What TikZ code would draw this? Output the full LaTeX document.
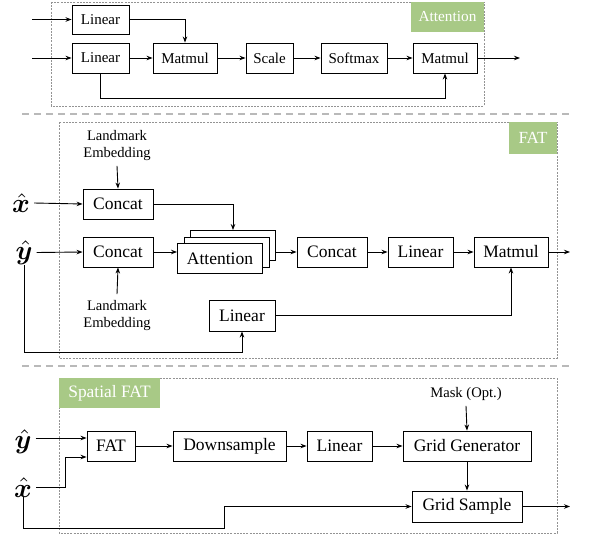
\documentclass[tikz,border=0pt]{standalone}
\usepackage{graphicx}
\usepackage{bm}
\usepackage{fontspec}
\setmainfont{Liberation Serif}
\usetikzlibrary{arrows.meta}

\definecolor{tagGreen}{RGB}{168,201,134}
\newcommand{\szOne}{\fontsize{15}{18}\selectfont}
\newcommand{\szTwo}{\fontsize{17.5}{20}\selectfont}
\newcommand{\szSmall}{\fontsize{14.6}{17}\selectfont}
\newcommand{\hatvar}[1]{\scalebox{2.7}{$\bm{\hat{#1}}$}}

\begin{document}
\begin{tikzpicture}[x=1pt,y=-1pt,
	box/.style={draw,line width=0.9pt,minimum height=30pt,inner sep=0pt,fill=white},
	tag/.style={fill=tagGreen,text=white,inner sep=0pt},
	frame/.style={draw=gray!85,line width=0.7pt,dash pattern=on 2pt off 1.2pt},
	sep/.style={draw=gray!55,line width=1.6pt,dash pattern=on 7pt off 5pt},
	arr/.style={-{Stealth[length=6pt,width=4.5pt]},line width=0.9pt},
	note/.style={align=center,font=\szSmall,inner sep=0pt},
	var/.style={font=\fontsize{10}{12}\selectfont,inner sep=0pt}]
	\useasboundingbox (0,0) rectangle (600,535);

	% attention
	\draw[frame] (51,2) rectangle (484,106);
	\node[tag,font=\fontsize{15.3}{18}\selectfont,minimum width=73pt,minimum height=30pt] (tagA) at (447.5,17) {Attention};

	\node[box,font=\szOne,minimum width=57pt,minimum height=29pt] (linK) at (100.5,19.5) {Linear};
	\node[box,font=\szOne,minimum width=57pt] (linQ) at (100.5,58) {Linear};
	\node[box,font=\szOne,minimum width=64pt] (mmA) at (185,58) {Matmul};
	\node[box,font=\szOne,minimum width=47pt] (scl) at (269.5,58) {Scale};
	\node[box,font=\szOne,minimum width=66pt] (smx) at (354,58) {Softmax};
	\node[box,font=\szOne,minimum width=64pt] (mmB) at (445,58) {Matmul};

	\coordinate (inK) at (32,19.5);
	\coordinate (inQ) at (32,58);
	\coordinate (outA) at (520,58);
	\coordinate (bendA) at (100.5,98);

	\draw[arr] (inK) -- (linK.west);
	\draw[arr] (inQ) -- (linQ.west);
	\draw[arr] (linK.east) -| (mmA.north);
	\draw[arr] (linQ) -- (mmA);
	\draw[arr] (mmA) -- (scl);
	\draw[arr] (scl) -- (smx);
	\draw[arr] (smx) -- (mmB);
	\draw[arr] (mmB.east) -- (outA);
	\draw[arr] (linQ.south) |- (bendA) -| (mmB.south);

	\draw[sep] (22,114) -- (570,114);

	% fat
	\draw[frame] (59,122) rectangle (557,358);
	\node[tag,font=\fontsize{17}{20}\selectfont,minimum width=48pt,minimum height=32pt] (tagF) at (533,138) {FAT};

	\node[var] (xhF) at (21,203) {\hatvar{x}};
	\node[var] (yhF) at (24,252.5) {\hatvar{y}};
	\node[note] (lmTop) at (117,145.5) {Landmark\\Embedding};
	\node[note] (lmBot) at (117,315.5) {Landmark\\Embedding};

	\node[box,font=\szTwo,minimum width=70pt] (catX) at (118,204) {Concat};
	\node[box,font=\szTwo,minimum width=70pt] (catY) at (118,252) {Concat};
	\foreach \k in {2,1}{
		\node[box,minimum width=85pt] (att\k) at (220+6.5*\k, 258.5-6.5*\k) {};
	}
	\node[box,font=\szTwo,minimum width=85pt] (att0) at (220,258.5) {Attention};
	\node[box,font=\szTwo,minimum width=70pt] (catZ) at (332,252) {Concat};
	\node[box,font=\szTwo,minimum width=65pt] (linF) at (420.5,252) {Linear};
	\node[box,font=\szTwo,minimum width=74pt] (mmF) at (511,252) {Matmul};
	\node[box,font=\szTwo,minimum width=66pt,minimum height=31pt] (linV) at (242,315.5) {Linear};

	\coordinate (outF) at (570,252);
	\coordinate (bendF) at (24,352);

	\draw[arr] (lmTop.south) ++(0,5) -- (catX.north);
	\draw[arr] (lmBot.north) ++(0,-6) -- (catY.south);
	\draw[arr] (xhF.east) ++(4,0) -- (catX.west);
	\draw[arr] (yhF.east) ++(4,0) -- (catY.west);
	\draw[arr] (catX.east) -| (att2.north);
	\draw[arr] (catY.east) -- (catY.east -| att0.west);
	\draw[arr] (att2.east |- catZ.west) -- (catZ.west);
	\draw[arr] (catZ) -- (linF);
	\draw[arr] (linF) -- (mmF);
	\draw[arr] (mmF.east) -- (outF);
	\draw[arr] (linV.east) -| (mmF.south);
	\draw[arr] (yhF.south) |- (bendF) -| (linV.south);

	\draw[sep] (22,366) -- (570,366);

	% spatial fat
	\draw[frame] (59,378) rectangle (557,533);
	\node[tag,font=\fontsize{17.4}{20}\selectfont,minimum width=101pt,minimum height=30pt] (tagS) at (109.5,393) {Spatial FAT};

	\node[var] (yhS) at (23,441.5) {\hatvar{y}};
	\node[var] (xhS) at (23,487.5) {\hatvar{x}};
	\node[note] (msk) at (466,394) {Mask (Opt.)};

	\node[box,font=\szTwo,minimum width=48pt] (fat) at (111,446) {FAT};
	\node[box,font=\szTwo,minimum width=113pt] (dwn) at (229.5,446) {Downsample};
	\node[box,font=\szTwo,minimum width=65pt] (linS) at (339.5,446) {Linear};
	\node[box,font=\szTwo,minimum width=128pt] (gg) at (467,446) {Grid Generator};
	\node[box,font=\szTwo,minimum width=110pt,minimum height=31pt] (gs) at (467,506.5) {Grid Sample};

	\coordinate (bendX) at (65,457);
	\coordinate (stepX) at (224,528);
	\coordinate (outS) at (570,506.5);

	\draw[arr] (yhS.east |- 0,438) ++(4,0) -- (fat.west |- 0,438);
	\draw[arr] (xhS.east) ++(4,0) -| (bendX) -- (fat.west |- bendX);
	\draw[arr] (fat) -- (dwn);
	\draw[arr] (dwn) -- (linS);
	\draw[arr] (linS) -- (gg);
	\draw[arr] (msk.south) ++(0,5) -- (gg.north);
	\draw[arr] (gg) -- (gs);
	\draw[arr] (xhS.south) |- (stepX) |- (gs.west);
	\draw[arr] (gs.east) -- (outS);
\end{tikzpicture}
\end{document}
